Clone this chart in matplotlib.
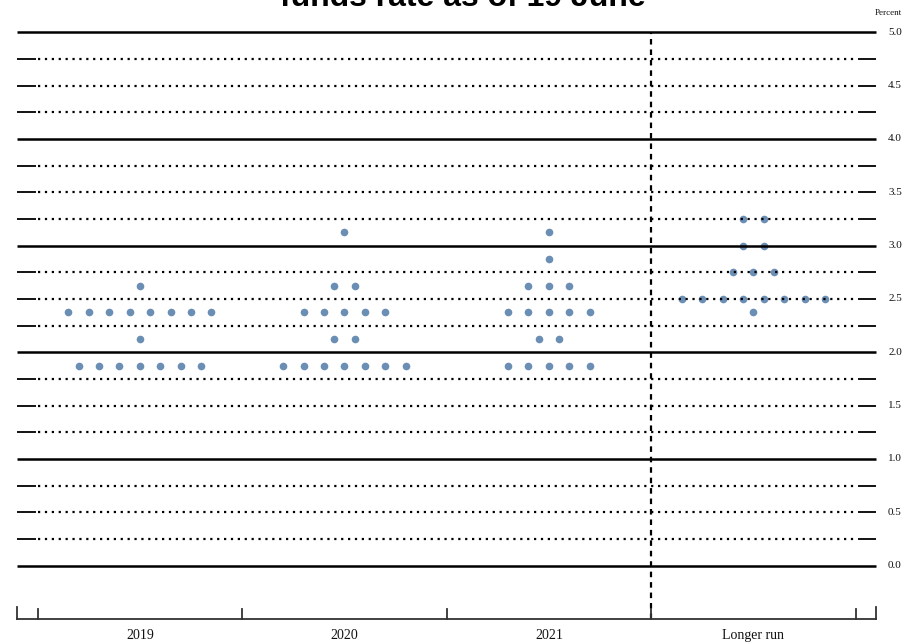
import numpy as np
import matplotlib
matplotlib.use("Agg")
import matplotlib.pyplot as plt

# Categories along the bottom
categories = ["2019", "2020", "2021", "Longer run"]

# Dot plot: (rate level, number of participants) for each category
levels_2019 = [2.625, 2.375, 2.125, 1.875]
counts_2019 = [1, 8, 1, 7]

levels_2020 = [3.125, 2.625, 2.375, 2.125, 1.875]
counts_2020 = [1, 2, 5, 2, 7]

levels_2021 = [3.125, 2.875, 2.625, 2.375, 2.125, 1.875]
counts_2021 = [1, 1, 3, 5, 2, 5]

levels_longer = [3.25, 3.0, 2.75, 2.5, 2.375]
counts_longer = [2, 2, 3, 8, 1]

all_levels = [levels_2019, levels_2020, levels_2021, levels_longer]
all_counts = [counts_2019, counts_2020, counts_2021, counts_longer]

grid_values = np.arange(0, 5.01, 0.25)
label_values = np.arange(0, 5.01, 0.5)

dot_color = "#6b8eb5"
serif = ["Liberation Serif", "DejaVu Serif"]

fig = plt.figure(figsize=(9.11, 6.42), dpi=100)
ax = fig.add_axes([0.01888, 0.03583, 0.9429, 0.9139])
ax.set_xlim(-0.6, 3.6)
ax.set_ylim(-0.5, 5.0)
ax.axis("off")

# horizontal grid lines: solid at whole percents, dotted in between
for v in grid_values:
    if abs(v - round(v)) < 1e-9:
        ax.plot([-0.6, 3.6], [v, v], color="black", lw=1.8, zorder=2,
                solid_capstyle="butt", clip_on=False)
    else:
        ax.plot([-0.5, 3.5], [v, v], color="black", lw=1.6,
                linestyle=(0, (1, 2.1)), zorder=2, clip_on=False)
        ax.plot([-0.6, -0.51], [v, v], color="black", lw=1.3, zorder=2,
                solid_capstyle="butt", clip_on=False)
        ax.plot([3.51, 3.6], [v, v], color="black", lw=1.3, zorder=2,
                solid_capstyle="butt", clip_on=False)

for v in label_values:
    ax.text(3.692, v, f"{v:.1f}", ha="center", va="center", fontsize=8,
            family=serif, color="#111111")
ax.text(3.659, 5.18, "Percent", ha="center", va="center", fontsize=6.5,
        family=serif, color="#111111")

# dots
for i, (levels, counts) in enumerate(zip(all_levels, all_counts)):
    for lev, n in zip(levels, counts):
        xs = i + (np.arange(n) - (n - 1) / 2) * 0.1
        ax.plot(xs, [lev] * n, "o", color=dot_color, ms=5.5, mew=0,
                zorder=1, clip_on=False)

# dashed separator before longer run
ax.plot([2.5, 2.5], [-0.5, 5.0], color="black", lw=1.6,
        linestyle=(0, (2.5, 2.2)), zorder=3, clip_on=False)

# bottom axis with ticks
ax.plot([-0.6, 3.6], [-0.5, -0.5], color="#333333", lw=1.3, zorder=3,
        clip_on=False)
for x in [-0.5, 0.5, 1.5, 2.5, 3.5]:
    ax.plot([x, x], [-0.5, -0.41], color="#333333", lw=1.3, zorder=3,
            clip_on=False)
for x in [-0.6, 3.6]:
    ax.plot([x, x], [-0.5, -0.385], color="#333333", lw=1.3, zorder=3,
            clip_on=False)
for i, c in enumerate(categories):
    ax.text(i, -0.656, c, ha="center", va="center", fontsize=10,
            family=serif, color="#111111")

fig.text(0.508, 1 - 6 / 642, "funds rate as of 19 June", ha="center",
         va="baseline", fontsize=23, fontweight="bold",
         family=["Liberation Sans", "DejaVu Sans"])

fig.savefig("out.png", dpi=100)
